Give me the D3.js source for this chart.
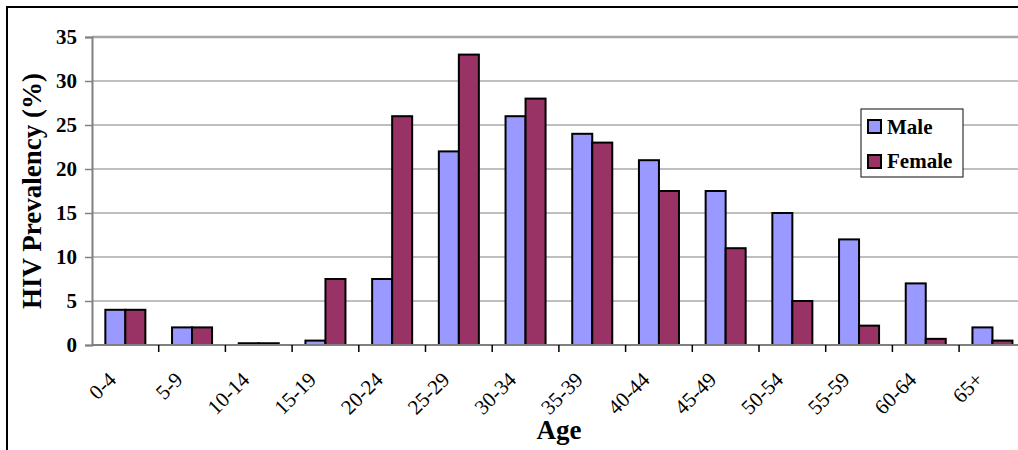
<!DOCTYPE html>
<html>
<head>
<meta charset="utf-8">
<script src="https://cdn.jsdelivr.net/npm/d3@7"></script>
<style>
  body { margin: 0; background: #fff; }
  svg { display: block; }
  svg text { font-family: "Liberation Serif", "Times New Roman", Times, serif; }
</style>
</head>
<body>
<div id="chart"></div>
<script>
// Age groups and prevalence (%)
const ages = ['0-4', '5-9', '10-14', '15-19', '20-24', '25-29', '30-34',
  '35-39', '40-44', '45-49', '50-54', '55-59', '60-64', '65+']
const male = [4, 2, 0.2, 0.5, 7.5, 22, 26, 24, 21, 17.5, 15, 12, 7, 2]
const female = [4, 2, 0.2, 7.5, 26, 33, 28, 23, 17.5, 11, 5, 2.2, 0.7, 0.5]
const yTicks = [0, 5, 10, 15, 20, 25, 30, 35]

const width = 1018,
  height = 450,
  plotLeft = 92,
  plotTop = 37,
  plotBottom = 345,
  band = 66.7

let svg = d3.select('#chart')
  .append('svg')
  .attr('width', width)
  .attr('height', height)

// outer frame (cropped on right and bottom)
svg.append('path')
  .attr('d', `M7,${height} L7,7 L${width},7`)
  .attr('fill', 'none')
  .attr('stroke', '#000')
  .attr('stroke-width', 2)

let x = d3.scaleBand()
  .domain(ages)
  .range([plotLeft, plotLeft + band * ages.length])

let y = d3.scaleLinear()
  .domain([0, 35])
  .range([plotBottom, plotTop])

// gridlines
svg.selectAll('line.grid')
  .data(yTicks.filter(d => d > 0))
  .enter()
  .append('line')
  .attr('class', 'grid')
  .attr('x1', plotLeft)
  .attr('x2', width)
  .attr('y1', d => y(d))
  .attr('y2', d => y(d))
  .attr('stroke', d => d === 35 ? '#a6a6a6' : '#808080')
  .attr('stroke-width', d => d === 35 ? 2.5 : 1.2)

// bars
let bw = x.bandwidth() * 0.3
let groups = [
  { values: male, fill: '#9999ff', off: 0.2 },
  { values: female, fill: '#993366', off: 0.5 }
]
groups.forEach(g => {
  svg.append('g')
    .selectAll('rect')
    .data(g.values)
    .enter()
    .append('rect')
    .attr('x', (d, i) => x(ages[i]) + x.bandwidth() * g.off)
    .attr('y', d => y(d))
    .attr('width', bw)
    .attr('height', d => y(0) - y(d))
    .attr('fill', g.fill)
    .attr('stroke', '#000')
    .attr('stroke-width', 2)
})

// y axis
let yAxis = svg.append('g')
  .attr('transform', `translate(${plotLeft}, 0)`)
  .call(d3.axisLeft(y).tickValues(yTicks).tickSize(7).tickPadding(8))
yAxis.attr('font-family', null)
yAxis.select('.domain').attr('stroke', '#808080').attr('stroke-width', 2)
yAxis.selectAll('.tick line').attr('stroke', '#808080').attr('stroke-width', 1.5)
yAxis.selectAll('.tick text')
  .attr('font-weight', 'bold')
  .attr('font-size', 21)
  .attr('fill', '#000')

// x axis line and ticks between categories
let xAxis = svg.append('g')
  .attr('transform', `translate(0, ${plotBottom})`)
xAxis.append('line')
  .attr('x1', plotLeft)
  .attr('x2', width)
  .attr('stroke', '#808080')
  .attr('stroke-width', 2)
xAxis.selectAll('line.tick')
  .data(ages.slice(1))
  .enter()
  .append('line')
  .attr('class', 'tick')
  .attr('x1', d => x(d))
  .attr('x2', d => x(d))
  .attr('y1', 0)
  .attr('y2', 7)
  .attr('stroke', '#000')
  .attr('stroke-width', 1.5)

// rotated category labels
svg.append('g')
  .selectAll('text')
  .data(ages)
  .enter()
  .append('text')
  .attr('transform', d => `translate(${x(d) + x.bandwidth() / 2 - 8}, 381) rotate(-45)`)
  .attr('text-anchor', 'end')
  .attr('font-size', 21)
  .text(d => d)

// axis titles
svg.append('text')
  .attr('x', plotLeft + band * ages.length / 2)
  .attr('y', 439)
  .attr('text-anchor', 'middle')
  .attr('font-weight', 'bold')
  .attr('font-size', 27)
  .text('Age')

svg.append('text')
  .attr('transform', `translate(41, ${(plotTop + plotBottom) / 2}) rotate(-90)`)
  .attr('text-anchor', 'middle')
  .attr('font-weight', 'bold')
  .attr('font-size', 27)
  .text('HIV Prevalency (%)')

// legend
let legend = svg.append('g')
legend.append('rect')
  .attr('x', 861)
  .attr('y', 109)
  .attr('width', 102)
  .attr('height', 68)
  .attr('fill', '#fff')
  .attr('stroke', '#333')
  .attr('stroke-width', 1.2)
let names = ['Male', 'Female']
names.forEach((n, i) => {
  legend.append('rect')
    .attr('x', 868)
    .attr('y', 120 + i * 35)
    .attr('width', 13)
    .attr('height', 13)
    .attr('fill', groups[i].fill)
    .attr('stroke', '#000')
    .attr('stroke-width', 2)
  legend.append('text')
    .attr('x', 887)
    .attr('y', 134 + i * 34)
    .attr('font-weight', 'bold')
    .attr('font-size', 21)
    .text(n)
})
</script>
</body>
</html>
